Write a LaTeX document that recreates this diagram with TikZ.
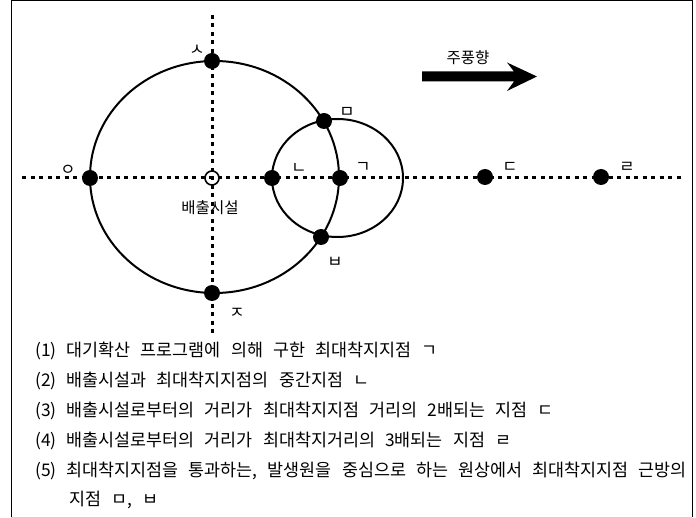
\documentclass[tikz,border=0pt]{standalone}
\usepackage{fontspec}
\setmainfont{Noto Sans CJK KR}[WordSpace=2.6]
\begin{document}
\begin{tikzpicture}[x=1pt,y=-1pt,
  dot/.style={circle,fill=black,inner sep=0pt,minimum size=16pt},
  src/.style={circle,draw=black,line width=1.6pt,inner sep=0pt,minimum size=14pt},
  jamo/.style={font=\fontsize{16.5}{16.5}\selectfont,inner sep=0pt},
  lbl/.style={font=\fontsize{15.5}{15.5}\selectfont,inner sep=0pt},
  guide/.style={line width=3pt,dash pattern=on 4pt off 4.5pt},
  orbit/.style={line width=2pt},
  item/.style={anchor=west,inner sep=0pt,font=\fontsize{17.4}{17.4}\selectfont}]
\useasboundingbox (0,0) rectangle (696,518);
\fill[white] (0,0) rectangle (696,518);
% frame
\draw[line width=1pt] (11,517) -- (11,1) -- (692,1) -- (692,517);
\draw[gray!35,line width=1pt] (11,517) -- (692,517);
% guide lines
\coordinate (hL) at (22,178);
\coordinate (hR) at (682,178);
\coordinate (vT) at (212,15);
\coordinate (vB) at (212,337);
\draw[guide] (hL) -- (hR);
\draw[guide] (vT) -- (vB);
% circles
\draw[orbit] (214.5,177) ellipse [x radius=124.5pt, y radius=116pt];
\draw[orbit] (337.5,178) ellipse [x radius=65.5pt, y radius=59pt];
% points
\node[src] (pSrc) at (212,178) {};
\node[dot] (pS) at (212,61) {};
\node[dot] (pJ) at (212,293) {};
\node[dot] (pO) at (90,178) {};
\node[dot] (pN) at (272,178) {};
\node[dot] (pG) at (340,178) {};
\node[dot] (pM) at (324,121) {};
\node[dot] (pB) at (321,237) {};
\node[dot] (pD) at (485,177) {};
\node[dot] (pR) at (601,177) {};
% point labels
\node[jamo] (lS) at (197,50) {ㅅ};
\node[jamo] (lM) at (347,112) {ㅁ};
\node[jamo] (lN) at (299,168) {ㄴ};
\node[jamo] (lG) at (363,167) {ㄱ};
\node[jamo] (lO) at (68,170) {ㅇ};
\node[jamo] (lD) at (510,167) {ㄷ};
\node[jamo] (lR) at (627,167) {ㄹ};
\node[jamo] (lB) at (335,262) {ㅂ};
\node[jamo] (lJ) at (237,313) {ㅈ};
\node[lbl] (lSrc) at (210,208) {배출시설};
% wind arrow
\fill (422,71.5) -- (514,71.5) -- (507,62.5) -- (537,76.5) -- (507,91) -- (514,81.5) -- (422,81.5) -- cycle;
\node[lbl] (lWind) at (468,58) {주풍향};
% legend
\node[item] (t1) at (35,351) {(1) 대기확산 프로그램에 의해 구한 최대착지지점 ㄱ};
\node[item] (t2) at (35,381) {(2) 배출시설과 최대착지지점의 중간지점 ㄴ};
\node[item] (t3) at (35,411) {(3) 배출시설로부터의 거리가 최대착지지점 거리의 2배되는 지점 ㄷ};
\node[item] (t4) at (35,441) {(4) 배출시설로부터의 거리가 최대착지거리의 3배되는 지점 ㄹ};
\node[item] (t5) at (35,471) {(5) 최대착지지점을 통과하는, 발생원을 중심으로 하는 원상에서 최대착지지점 근방의};
\node[item] (t6) at (69,500) {지점 ㅁ, ㅂ};
\end{tikzpicture}
\end{document}
